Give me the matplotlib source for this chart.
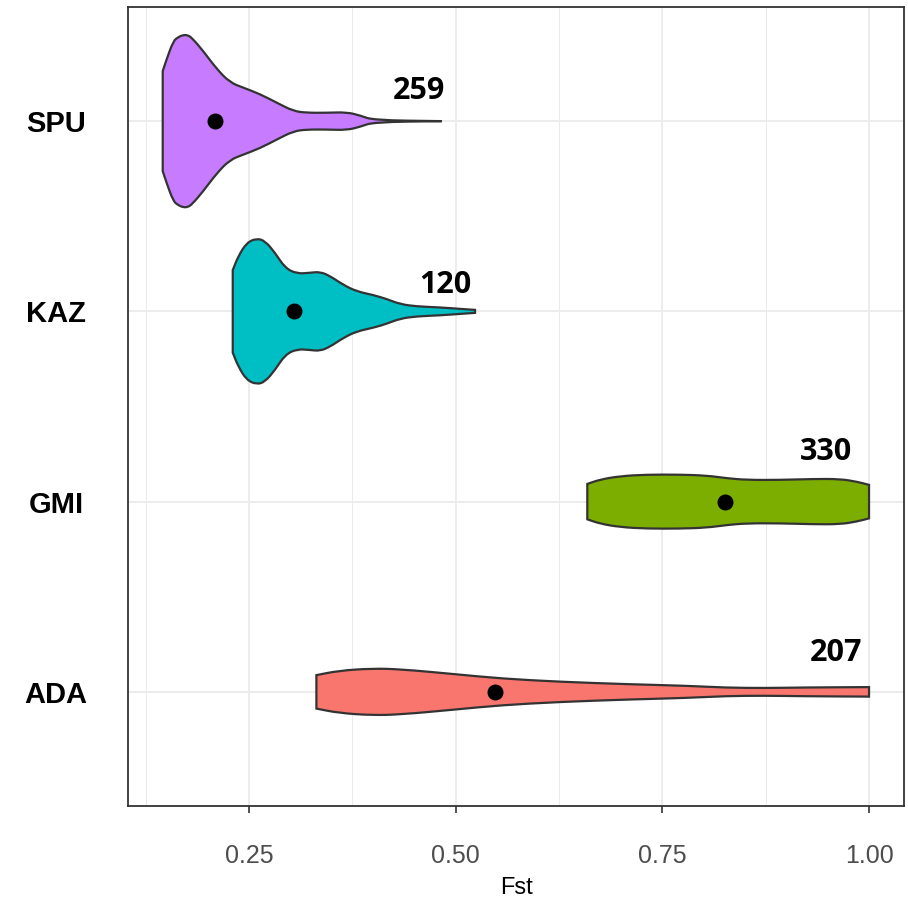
import numpy as np
import matplotlib
matplotlib.use("Agg")
import matplotlib.pyplot as plt
from matplotlib.path import Path
from matplotlib.patches import PathPatch
from matplotlib.ticker import MultipleLocator

# populations, bottom to top
pops = ["ADA", "GMI", "KAZ", "SPU"]
colors = ["#F8766D", "#7CAE00", "#00BFC4", "#C77CFF"]
counts = [207, 330, 120, 259]
means = [0.548, 0.826, 0.304, 0.209]

# violin outlines: Fst value and half width (in category units)
ada_x = [0.3315, 0.3586, 0.3984, 0.4335, 0.4991, 0.5552, 0.6255, 0.7098, 0.7799, 0.8268, 0.8736, 0.9204, 1.0]
ada_w = [0.088, 0.111, 0.123, 0.119, 0.093, 0.070, 0.053, 0.040, 0.032, 0.022, 0.020, 0.023, 0.025]

gmi_x = [0.6592, 0.6746, 0.6988, 0.7311, 0.7714, 0.8037, 0.8279, 0.8520, 0.8923, 0.9326, 0.9649, 0.9851, 1.0]
gmi_w = [0.093, 0.116, 0.134, 0.142, 0.142, 0.137, 0.123, 0.114, 0.114, 0.119, 0.119, 0.105, 0.088]

kaz_x = [0.2303, 0.2371, 0.2472, 0.2593, 0.2694, 0.2815, 0.2935, 0.3077, 0.3238, 0.3359, 0.3480,
         0.3641, 0.3803, 0.4004, 0.4166, 0.4327, 0.4529, 0.4810, 0.5092, 0.5234]
kaz_w = [0.217, 0.291, 0.361, 0.384, 0.370, 0.308, 0.229, 0.198, 0.203, 0.208, 0.186,
         0.139, 0.105, 0.086, 0.065, 0.038, 0.026, 0.021, 0.012, 0.008]

spu_x = [0.1456, 0.1504, 0.1584, 0.1644, 0.1705, 0.1756, 0.1807, 0.1947, 0.2109, 0.2270, 0.2431,
         0.2633, 0.2835, 0.3036, 0.3198, 0.3440, 0.3682, 0.3843, 0.4004, 0.4831]
spu_w = [0.263, 0.326, 0.421, 0.442, 0.453, 0.452, 0.439, 0.368, 0.274, 0.203, 0.176,
         0.142, 0.097, 0.053, 0.044, 0.044, 0.047, 0.030, 0.005, 0.0]

profiles = [(ada_x, ada_w), (gmi_x, gmi_w), (kaz_x, kaz_w), (spu_x, spu_w)]

# label positions for the counts
label_x = [0.960, 0.948, 0.488, 0.456]
label_dy = [0.205, 0.26, 0.14, 0.16]


def smooth_side(pts):
    # quadratic bezier through midpoints, ends kept on the first/last point
    verts = [pts[0]]
    codes = [Path.LINETO]
    verts.append((pts[0] + pts[1]) / 2)
    codes.append(Path.LINETO)
    for k in range(1, len(pts) - 1):
        verts += [pts[k], (pts[k] + pts[k + 1]) / 2]
        codes += [Path.CURVE3, Path.CURVE3]
    verts.append(pts[-1])
    codes.append(Path.LINETO)
    return verts, codes


def violin_path(px, pw, y):
    px = np.array(px)
    pw = np.array(pw)
    up = np.column_stack([px, y + pw])
    lo = np.column_stack([px, y - pw])[::-1]
    v1, c1 = smooth_side(up)
    v2, c2 = smooth_side(lo)
    c1[0] = Path.MOVETO
    verts = v1 + v2 + [v1[0]]
    codes = c1 + c2 + [Path.CLOSEPOLY]
    return Path(verts, codes)


fig = plt.figure(figsize=(9.08, 9.05), dpi=100)
ax = fig.add_axes([128/908, 1-806/905, (904-128)/908, (806-7)/905])

for i, (px, pw) in enumerate(profiles):
    y = i + 1
    patch = PathPatch(violin_path(px, pw, y), facecolor=colors[i], edgecolor="#333333",
                      linewidth=1.6, zorder=3)
    ax.add_patch(patch)
    ax.plot(means[i], y, "o", color="black", markersize=10.5, zorder=4)
    ax.text(label_x[i], y + label_dy[i], str(counts[i]), ha="center", va="center",
            fontsize=22, fontweight="bold", family=["Open Sans", "Noto Sans", "DejaVu Sans"], zorder=5)

ax.set_xlim(0.1036, 1.0423)
ax.set_ylim(0.4, 4.6)
ax.set_yticks([1, 2, 3, 4])
ax.set_yticklabels(pops)
ax.xaxis.set_minor_locator(MultipleLocator(0.125))
ax.set_xticks([0.25, 0.5, 0.75, 1.0])
ax.set_xticklabels(["0.25", "0.50", "0.75", "1.00"])

ax.grid(which="major", color="#EBEBEB", linewidth=1.3, zorder=0)
ax.grid(which="minor", axis="x", color="#EBEBEB", linewidth=0.7, zorder=0)
ax.set_axisbelow(True)

for s in ax.spines.values():
    s.set_color("#333333")
    s.set_linewidth(1.3)

ax.tick_params(axis="x", which="major", length=5, width=1.2, color="#333333",
               labelsize=18, labelcolor="#4D4D4D", pad=22)
ax.tick_params(axis="x", which="minor", length=0)
ax.tick_params(axis="y", length=0, pad=0)
for lab in ax.get_xticklabels():
    lab.set_family("Liberation Sans")
for lab in ax.get_yticklabels():
    lab.set_family("Liberation Sans")
    lab.set_fontweight("bold")
    lab.set_fontsize(21)
    lab.set_horizontalalignment("center")
    lab.set_x(-0.093)

ax.set_xlabel("Fst", fontsize=17, family="Liberation Sans", labelpad=7)

fig.savefig("out.png", dpi=100)
